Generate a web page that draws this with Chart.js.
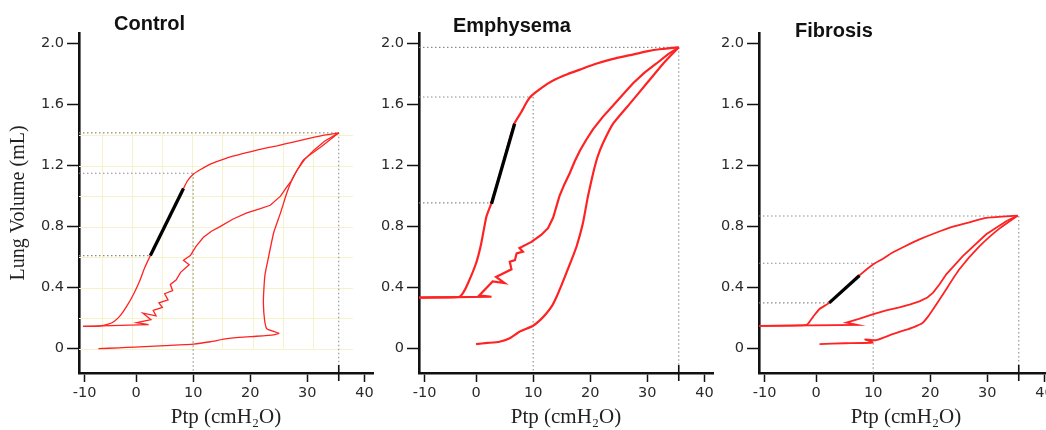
<!DOCTYPE html>
<html>
<head>
<meta charset="utf-8">
<script src="https://cdn.jsdelivr.net/npm/chart.js@4/dist/chart.umd.min.js"></script>
<style>
html, body { margin: 0; padding: 0; background: #fff; }
#wrap { position: relative; width: 1046px; height: 430px; overflow: hidden; }
#wrap canvas { position: absolute; top: 0; }
.ttl { position: absolute; font: bold 20px "Liberation Sans", Arial, sans-serif; line-height: 20px; color: #111; white-space: nowrap; }
</style>
</head>
<body>
<div id="wrap">
  <canvas id="c1" width="380" height="430" style="left:0px"></canvas>
  <canvas id="c2" width="380" height="430" style="left:340px"></canvas>
  <canvas id="c3" width="380" height="430" style="left:680px"></canvas>
  <div class="ttl" style="left:114px;top:13px">Control</div>
  <div class="ttl" style="left:453px;top:15px">Emphysema</div>
  <div class="ttl" style="left:795px;top:20px">Fibrosis</div>
</div>
<script>
// axis ticks (the -10 tick sits a little right of the axis in the original)
const xTicks = [-9, 0, 10, 20, 30, 40];
const xTickLabels = ['-10', '0', '10', '20', '30', '40'];
const yTicks = [0, 0.4, 0.8, 1.2, 1.6, 2.0];
const yTickLabels = ['0', '0.4', '0.8', '1.2', '1.6', '2.0'];
const peakPressure = 35.5;

// Control  [Ptp, volume]
const ctlFirst = [[-6.6,0],[-3,0.005],[-0.2,0.01],[5,0.02],[10.1,0.03],[13,0.045],[15.9,0.065],[20,0.078],[24.1,0.09],[25,0.1],[22.9,0.13],[22.5,0.19],[22.3,0.3],[22.4,0.4],[22.6,0.49],[23.2,0.6],[24.1,0.76],[25.3,0.89],[26.4,1.02],[27.6,1.13],[29.4,1.24],[32.3,1.32],[35.5,1.415]];
const ctlDefl = [[35.5,1.415],[33,1.4],[30.5,1.38],[27.5,1.355],[24.7,1.33],[21.5,1.305],[18.8,1.28],[15.5,1.245],[13,1.21],[11.3,1.175],[10.05,1.145],[9,1.1],[8.3,1.05],[5.4,0.83],[2.5,0.61],[1.5,0.53],[0.7,0.45],[-0.4,0.36],[-1.6,0.28],[-2.7,0.22],[-3.8,0.18],[-4.9,0.16],[-6.5,0.148],[-9.3,0.146]];
const ctlSecond = [[-9.3,0.146],[2.2,0.157],[0.1,0.17],[2.6,0.19],[1.2,0.232],[3.5,0.215],[3,0.25],[4.6,0.27],[4,0.3],[5.6,0.32],[5,0.36],[6.4,0.38],[6,0.42],[7,0.45],[7.8,0.5],[9.3,0.55],[8.3,0.58],[9.5,0.61],[10.5,0.67],[11.8,0.73],[13.2,0.77],[14.7,0.8],[17,0.85],[19.4,0.89],[21.5,0.915],[23.5,0.94],[25.3,1],[26.4,1.06],[27.2,1.1],[28.2,1.17],[29.5,1.24],[31.1,1.3],[33,1.36],[35.5,1.415]];
const ctlSlope = [[2.5,0.61],[8.3,1.05]];
const ctlRefVol = [1.415, 1.15, 0.61];
const ctlRefP = [35.5, 10, 2.5];
const ctlGridX = [-6, -0.8, 4.5, 9.8, 15.1, 20.4, 25.7, 31];
const ctlGridY = [0, 0.2, 0.4, 0.6, 0.8, 1.0, 1.2, 1.4];

// Emphysema
const emFirst = [[0,0.03],[2,0.037],[4.1,0.045],[6,0.07],[7.6,0.11],[10,0.15],[11.3,0.19],[12.3,0.23],[13.3,0.28],[14.1,0.34],[15,0.42],[15.8,0.495],[16.7,0.58],[17.6,0.67],[18.7,0.82],[19.6,1],[20.5,1.15],[21.3,1.26],[22.2,1.345],[24,1.475],[26.9,1.605],[29.9,1.74],[32.8,1.87],[35.5,1.976]];
const emDefl = [[35.5,1.976],[32.5,1.965],[29.9,1.95],[27,1.925],[24,1.9],[21,1.868],[18.2,1.83],[16,1.8],[14.1,1.77],[12.4,1.735],[11.1,1.7],[10.3,1.678],[9.6,1.655],[9,1.625],[8.4,1.585],[7.9,1.55],[6.7,1.475],[4.7,1.21],[2.7,0.956],[1.8,0.865],[0.9,0.69],[0,0.56],[-1.4,0.43],[-2.2,0.37],[-2.9,0.34],[-5,0.336],[-10,0.335]];
const emSecond = [[-10,0.335],[2.7,0.34],[0.6,0.35],[2.9,0.44],[5,0.43],[3.5,0.47],[6.2,0.52],[5.9,0.57],[6.8,0.58],[7.1,0.625],[8.2,0.636],[7.6,0.66],[9.7,0.7],[11.4,0.745],[12.6,0.79],[13.5,0.86],[14.6,1],[15.5,1.08],[16.4,1.15],[17.3,1.23],[18.2,1.3],[19.3,1.37],[20.5,1.44],[22.2,1.52],[24,1.595],[25.8,1.67],[27.5,1.74],[29.5,1.81],[31.6,1.87],[33.6,1.93],[35.5,1.976]];
const emSlope = [[2.7,0.95],[6.75,1.475]];
const emRefVol = [1.976, 1.65, 0.956];
const emRefP = [35.5, 10, 2.7];

// Fibrosis
const fibFirst = [[0.6,0.03],[5,0.035],[9.9,0.04],[8.6,0.06],[10.5,0.055],[13.4,0.095],[15.3,0.118],[16.9,0.138],[18.7,0.17],[19.6,0.21],[20.5,0.258],[21.6,0.32],[22.8,0.39],[25.1,0.52],[28.6,0.67],[32.2,0.79],[35.3,0.872]];
const fibDefl = [[35.3,0.872],[32.5,0.866],[29.8,0.857],[27,0.83],[24,0.8],[21,0.76],[18.1,0.716],[15.5,0.67],[13.4,0.63],[11.5,0.585],[9.9,0.55],[7.6,0.48],[2.3,0.3],[0.6,0.26],[-0.5,0.21],[-1.5,0.16],[-3,0.152],[-10,0.149]];
const fibSecond = [[-10,0.149],[7.3,0.155],[5.3,0.171],[7.5,0.195],[9.9,0.225],[12.3,0.25],[14.6,0.27],[16.5,0.29],[18.1,0.31],[19.5,0.335],[20.5,0.367],[21.6,0.42],[22.8,0.487],[25.7,0.607],[29.8,0.75],[33.3,0.835],[35.3,0.872]];
const fibSlope = [[2.3,0.3],[7.6,0.48]];
const fibRefVol = [0.87, 0.56, 0.3];
const fibRefP = [35.5, 10, 2.3];

const X_MIN = -10, X_MAX = 41.5, Y_MIN = -0.16, Y_MAX = 2.07;
const RED = '#ff2222';

const pts = arr => arr.map(p => ({ x: p[0], y: p[1] }));

// faint grid (Control only) + long tick at peak pressure
const extras = {
  id: 'extras',
  beforeDatasetsDraw(chart, args, opts) {
    if (!opts.gridX) return;
    const { ctx, scales: { x, y } } = chart;
    ctx.save();
    ctx.strokeStyle = '#f5f2cc';
    ctx.lineWidth = 1;
    const top = y.getPixelForValue(1.42), bot = y.getPixelForValue(0);
    const l = x.getPixelForValue(X_MIN), r = x.getPixelForValue(38);
    ctx.beginPath();
    opts.gridX.forEach(v => { const px = Math.round(x.getPixelForValue(v)) + 0.5; ctx.moveTo(px, top); ctx.lineTo(px, bot); });
    opts.gridY.forEach(v => { const py = Math.round(y.getPixelForValue(v)) + 0.5; ctx.moveTo(l, py); ctx.lineTo(r, py); });
    ctx.stroke();
    ctx.restore();
  },
  afterDraw(chart) {
    const { ctx, scales: { x, y } } = chart;
    const px = x.getPixelForValue(peakPressure);
    ctx.save();
    ctx.strokeStyle = '#111';
    ctx.lineWidth = 1.6;
    ctx.beginPath();
    ctx.moveTo(px, y.bottom - 8);
    ctx.lineTo(px, y.bottom + 8);
    ctx.stroke();
    ctx.restore();
  }
};

function refLines(vols, ps) {
  const sets = [];
  vols.forEach((v, i) => {
    sets.push([[X_MIN, v], [ps[i], v]]);
    if (i < 2) sets.push([[ps[i], v], [ps[i], Y_MIN]]);
  });
  return sets.map(s => ({
    data: pts(s), borderColor: '#8c8c8c', borderWidth: 1.1, borderDash: [1.5, 2.5],
    pointRadius: 0, showLine: true, tension: 0
  }));
}

function makePanel(id, first, defl, second, slope, vols, ps, lw, yTitle, grid) {
  const curve = (d, t) => ({ data: pts(d), borderColor: RED, borderWidth: lw, pointRadius: 0, showLine: true, tension: t });
  new Chart(document.getElementById(id), {
    type: 'scatter',
    data: {
      datasets: [
        { data: pts(slope), borderColor: '#000', borderWidth: 3.3, pointRadius: 0, showLine: true },
        curve(defl, 0.15),
        curve(first, 0.15),
        curve(second, 0),
        ...refLines(vols, ps)
      ]
    },
    options: {
      responsive: false,
      animation: false,
      layout: { padding: { top: 33, right: 7, left: 0, bottom: 0 } },
      plugins: {
        legend: { display: false },
        tooltip: { enabled: false },
        extras: grid ? { gridX: ctlGridX, gridY: ctlGridY } : {}
      },
      scales: {
        x: {
          type: 'linear', min: X_MIN, max: X_MAX,
          afterBuildTicks: s => { s.ticks = xTicks.map(v => ({ value: v })); },
          afterFit: s => { s.height = 57; },
          ticks: {
            callback: (v) => xTickLabels[xTicks.indexOf(v)],
            color: '#2a2a2a', font: { family: 'DejaVu Sans', size: 14.5 }, padding: 3, maxRotation: 0
          },
          grid: { drawOnChartArea: false, drawTicks: true, tickLength: 9, tickColor: '#111', tickWidth: 1.5 },
          border: { display: true, color: '#111', width: 2.6 },
          title: {
            display: true, text: 'Ptp (cmH\u2082O)', color: '#222',
            font: { family: 'Liberation Serif', size: 21 }, padding: { top: 0, bottom: 0 }
          }
        },
        y: {
          type: 'linear', min: Y_MIN, max: Y_MAX,
          afterBuildTicks: s => { s.ticks = yTicks.map(v => ({ value: v })); },
          afterFit: s => { s.width = 79; },
          ticks: {
            callback: (v) => yTickLabels[yTicks.indexOf(v)],
            color: '#2a2a2a', font: { family: 'DejaVu Sans', size: 14.5 }, padding: 3
          },
          grid: { drawOnChartArea: false, drawTicks: true, tickLength: 12, tickColor: '#111', tickWidth: 1.5 },
          border: { display: true, color: '#111', width: 2.6 },
          title: {
            display: yTitle, text: 'Lung Volume (mL)', color: '#222',
            font: { family: 'Liberation Serif', size: 20 }, padding: { top: 7, bottom: 0 }
          }
        }
      }
    },
    plugins: [extras]
  });
}

makePanel('c1', ctlFirst, ctlDefl, ctlSecond, ctlSlope, ctlRefVol, ctlRefP, 1.3, true, true);
makePanel('c2', emFirst, emDefl, emSecond, emSlope, emRefVol, emRefP, 2.2, false, false);
makePanel('c3', fibFirst, fibDefl, fibSecond, fibSlope, fibRefVol, fibRefP, 1.8, false, false);
</script>
</body>
</html>
